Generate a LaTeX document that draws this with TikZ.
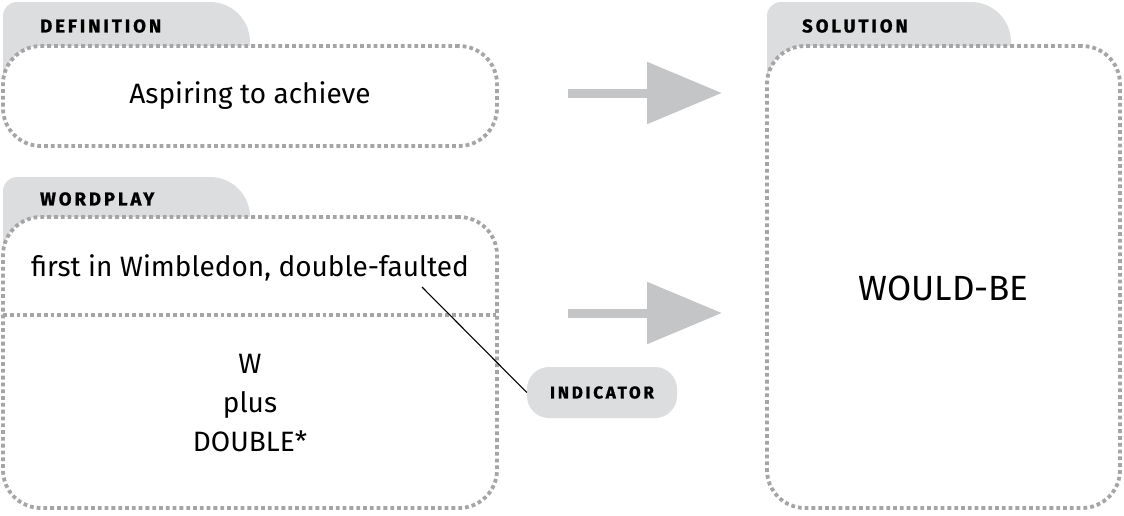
\documentclass[tikz,border=0pt]{standalone}
\usepackage{fontspec}
\setmainfont{Fira Sans}
\newfontfamily\tabfont{Fira Sans Bold}[LetterSpace=16, FakeBold=1.2]
\usetikzlibrary{arrows.meta, positioning, backgrounds}

\definecolor{tabgray}{HTML}{DCDDDF}
\definecolor{dotgray}{HTML}{A5A5A7}
\definecolor{arrowgray}{HTML}{C4C5C7}

\begin{document}
\begin{tikzpicture}[
    x=1pt, y=-1pt,
    box/.style={draw=dotgray, fill=white, line width=3.8pt,
                dash pattern=on 3.8pt off 3pt, rounded corners=38pt,
                inner sep=0pt, outer sep=0pt},
    divider/.style={draw=dotgray, line width=3.8pt, dash pattern=on 3.8pt off 3pt},
    tablabel/.style={font=\tabfont\fontsize{18.5}{20}\selectfont, anchor=west, inner sep=0pt},
    txt/.style={font=\fontsize{28}{39}\selectfont, align=center, inner sep=0pt},
    tag/.style={fill=tabgray, rounded corners=22pt, minimum width=150pt,
                minimum height=51pt, inner sep=0pt,
                font=\tabfont\fontsize{17}{18}\selectfont},
    bigarrow/.style={draw=arrowgray, line width=9pt,
                     -{Triangle[length=75pt, width=60pt]}},
    leader/.style={draw=black, line width=1.1pt}
  ]
  \useasboundingbox (0,0) rectangle (1124,515);

  % boxes
  \node[box, minimum width=494pt, minimum height=100pt] (def) at (250,96) {};
  \node[box, minimum width=494pt, minimum height=291pt] (wp) at (250,362.5) {};
  \node[box, minimum width=353pt, minimum height=462pt] (sol) at (943.5,277) {};

  % tabs behind the boxes
  \begin{scope}[on background layer]
    \foreach \b/\w/\h in {def/247/44, wp/247/40, sol/244/44}
      \fill[tabgray] ([yshift=-40pt]\b.north west) [rounded corners=14pt]
        -- ([yshift=\h pt]\b.north west) [rounded corners=40pt]
        -- ([xshift=\w pt, yshift=\h pt]\b.north west) [sharp corners]
        -- ([xshift=\w pt, yshift=-40pt]\b.north west)
        -- cycle;
  \end{scope}

  % tab labels
  \node[tablabel] (deflabel) at ([xshift=37pt, yshift=20pt]def.north west) {DEFINITION};
  \node[tablabel] (wplabel) at ([xshift=37pt, yshift=18pt]wp.north west) {WORDPLAY};
  \node[tablabel] (sollabel) at ([xshift=35pt, yshift=20pt]sol.north west) {SOLUTION};

  % wordplay divider
  \draw[divider] ([yshift=-98pt]wp.north west) -- ([yshift=-98pt]wp.north east);

  % texts
  \node[txt] (deftext) at (def.center) {Aspiring to achieve};
  \node[txt] (clue) at ([yshift=-51pt]wp.north) {first in Wimbledon, double-faulted};
  \node[txt] (parts) at ([yshift=-40.5pt]wp.center) {W\\plus\\DOUBLE*};
  \node[txt, font=\fontsize{35}{38}\selectfont] (answer) at ([yshift=-11pt]sol.center) {WOULD-BE};

  % indicator
  \node[tag] (ind) at ([xshift=105pt, yshift=-30pt]wp.east) {INDICATOR};
  \coordinate (hint) at (422,287);
  \draw[leader] (hint) -- (ind.west);

  % arrows
  \coordinate (a1) at ([xshift=71pt, yshift=3pt]def.east);
  \coordinate (a2) at ([xshift=71pt, yshift=49.5pt]wp.east);
  \coordinate (a1e) at ([xshift=-45pt]a1 -| sol.west);
  \coordinate (a2e) at ([xshift=-45pt]a2 -| sol.west);
  \draw[bigarrow] (a1) -- (a1e);
  \draw[bigarrow] (a2) -- (a2e);
\end{tikzpicture}
\end{document}
